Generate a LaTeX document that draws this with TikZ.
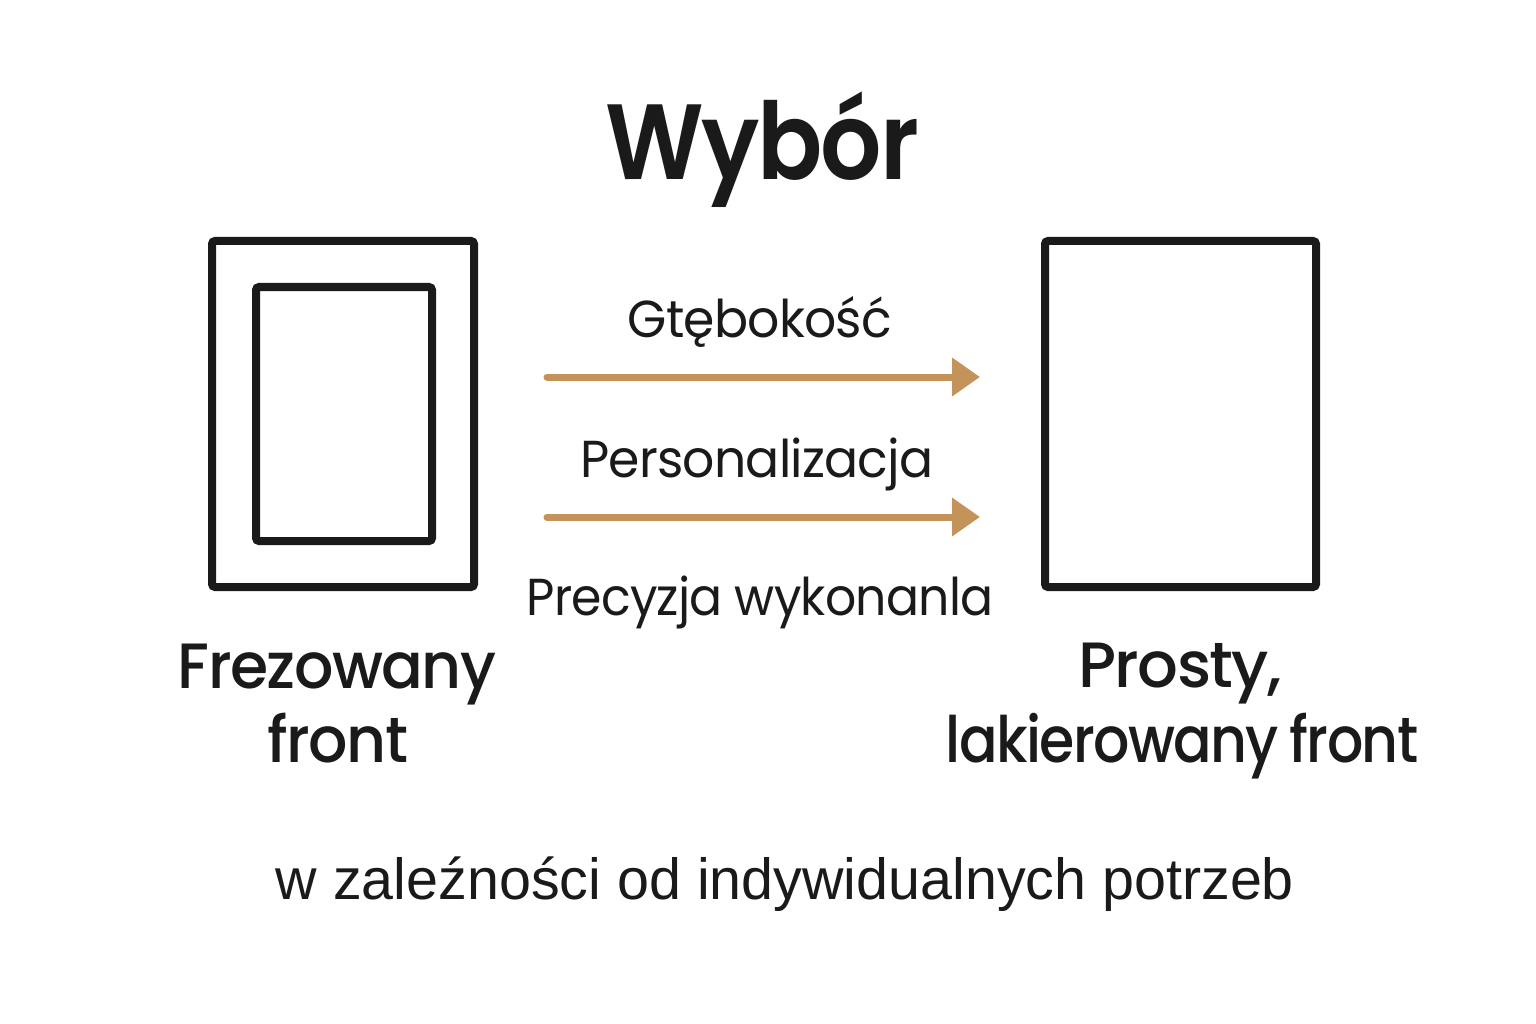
\documentclass[tikz,border=0pt]{standalone}
\usepackage{fontspec}
\setmainfont{Poppins}
\newfontfamily\titlefont{Poppins SemiBold}[LetterSpace=-2,FakeStretch=0.9]
\newfontfamily\capleft{Poppins Medium}[LetterSpace=-2.5,WordSpace=0.6,FakeStretch=0.965]
\newfontfamily\capright{Poppins Medium}[LetterSpace=-2.5,WordSpace=0.6]
\newfontfamily\capnarrow{Poppins Medium}[LetterSpace=-2.5,WordSpace=0.8,FakeStretch=0.89]
\newfontfamily\lblfont{Poppins}[LetterSpace=-1.5,FakeStretch=0.97]
\newfontfamily\lblnarrow{Poppins}[LetterSpace=-1.5,FakeStretch=0.94]
\newfontfamily\footfont{Liberation Sans}[FakeStretch=0.99]
\usetikzlibrary{arrows.meta}
\definecolor{ink}{HTML}{1A1A1A}
\definecolor{gold}{HTML}{C4935A}
\tikzset{
  frontframe/.style={draw=ink, line width=8pt, rounded corners=3pt},
  goldarrow/.style={draw=gold, line width=7pt, line cap=round, -{Triangle[length=28pt,width=37pt]}},
  txtbase/.style={text=ink, anchor=base, inner sep=0pt},
  titletxt/.style={txtbase, font=\fontsize{107}{110}\titlefont},
  lbltxt/.style={txtbase, font=\fontsize{52}{56}\lblfont},
  lblnarrowtxt/.style={txtbase, font=\fontsize{52}{56}\lblnarrow},
  capltxt/.style={txtbase, font=\fontsize{64}{68}\capleft},
  caprtxt/.style={txtbase, font=\fontsize{64}{68}\capright},
  capntxt/.style={txtbase, font=\fontsize{64}{68}\capnarrow},
  foottxt/.style={txtbase, font=\fontsize{58}{62}\footfont}
}
\begin{document}
\begin{tikzpicture}[x=1pt,y=-1pt]
\useasboundingbox[fill=white] (0,0) rectangle (1536,1024);
\node[titletxt] (t) at (762,180) {Wybór};
% left front
\draw[frontframe] (212,241) rectangle (474,587);
\draw[frontframe] (256,287) rectangle (432,541);
% right front
\draw[frontframe] (1045,241) rectangle (1316,587);
% labels
\node[lbltxt] (g) at (760,337) {Gtębokość};
\node[lbltxt] (p) at (757,477) {Personalizacja};
\node[lblnarrowtxt] (w) at (760,615) {Precyzja wykonanla};
% arrows
\coordinate (a1s) at (547,377);
\coordinate (a1e) at (980,377);
\coordinate (a2s) at (547,517);
\coordinate (a2e) at (980,517);
\draw[goldarrow] (a1s) -- (a1e);
\draw[goldarrow] (a2s) -- (a2e);
% captions
\node[capltxt] (f1) at (337,688) {Frezowany};
\node[capltxt] (f2) at (338,762) {front};
\node[caprtxt] (r1) at (1180,687) {Prosty,};
\node[capntxt] (r2) at (1182,762) {lakierowany front};
\node[foottxt] (b) at (785,899) {w zaleźności od indywidualnych potrzeb};
\end{tikzpicture}
\end{document}
